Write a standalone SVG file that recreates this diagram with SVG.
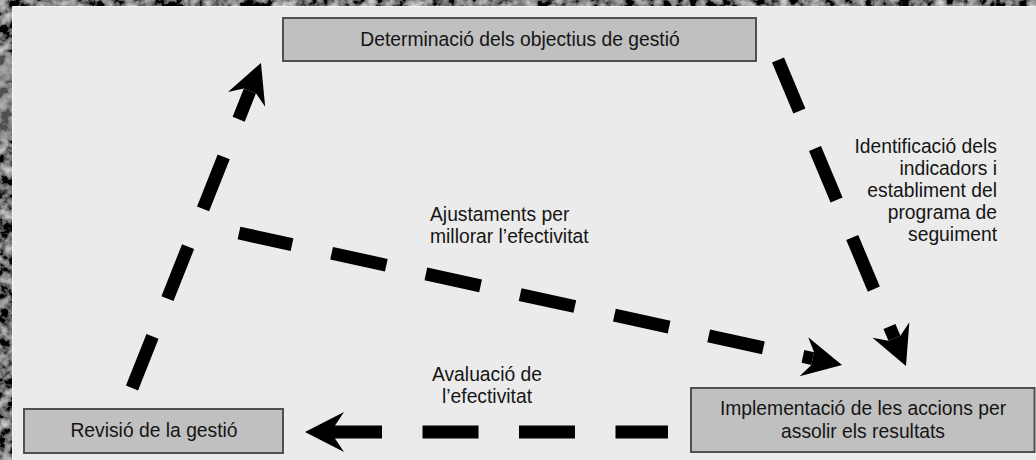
<svg xmlns="http://www.w3.org/2000/svg" width="1036" height="460" viewBox="0 0 1036 460">
  <defs>
    <filter id="grain" x="0" y="0" width="100%" height="100%">
      <feTurbulence type="fractalNoise" baseFrequency="0.09" numOctaves="4" seed="11" result="n"/>
      <feColorMatrix in="n" type="matrix" values="1.3 0 0 0 -0.48  1.3 0 0 0 -0.48  1.3 0 0 0 -0.48  0 0 0 0 1"/>
    </filter>
    <marker id="head" markerUnits="userSpaceOnUse" orient="auto-start-reverse" viewBox="-15 -25 50 50" markerWidth="50" markerHeight="50" refX="0" refY="0">
      <path d="M30,0 L-9,-20 L0,-6.5 L0,6.5 L-9,20 Z" fill="#000"/>
    </marker>
    <style>
      .box { fill: #c0c0c0; stroke: #505050; stroke-width: 2; }
      .lbl { font-family: "Liberation Sans", Arial, sans-serif; font-size: 19.3px; fill: #151515; }
      .mid { text-anchor: middle; }
      .end { text-anchor: end; }
      .conn { fill: none; stroke: #000; stroke-width: 13; stroke-dasharray: 56 40.5; marker-start: url(#head); }
    </style>
  </defs>

  <g id="background">
    <rect x="0" y="0" width="1036" height="460" fill="#2b2b2b"/>
    <rect x="0" y="0" width="1036" height="460" filter="url(#grain)"/>
    <rect x="0" y="52" width="13" height="88" fill="#a0a0a0" opacity="0.5"/>
    <rect x="13" y="7" width="1023" height="453" fill="#ebebeb"/>
    <path d="M12.5,460 L12.5,6.5 L1036,6.5" fill="none" stroke="#f7f7f7" stroke-width="1"/>
  </g>

  <g id="connectors">
    <path class="conn" style="stroke-dashoffset:25.5" d="M249.9,90.9 L132,388"/>
    <path class="conn" style="stroke-dashoffset:43.2" d="M894.4,338.3 L778,60"/>
    <path class="conn" style="stroke-dashoffset:46" d="M812.7,358.6 L239,233"/>
    <path class="conn" style="stroke-dashoffset:9" d="M335,432 L668,432"/>
  </g>

  <g id="node-objectius">
    <rect class="box" x="283" y="18" width="473" height="43"/>
    <text class="lbl mid" x="520" y="46">Determinació dels objectius de gestió</text>
  </g>

  <g id="node-implementacio">
    <rect class="box" x="691" y="388" width="343.5" height="64"/>
    <text class="lbl mid" x="863" y="415">Implementació de les accions per</text>
    <text class="lbl mid" x="863" y="438">assolir els resultats</text>
  </g>

  <g id="node-revisio">
    <rect class="box" x="24" y="409" width="259" height="44"/>
    <text class="lbl mid" x="154" y="437">Revisió de la gestió</text>
  </g>

  <g id="label-identificacio">
    <text class="lbl end" x="997" y="153">Identificació dels</text>
    <text class="lbl end" x="997" y="175">indicadors i</text>
    <text class="lbl end" x="997" y="197">establiment del</text>
    <text class="lbl end" x="997" y="219">programa de</text>
    <text class="lbl end" x="997" y="241">seguiment</text>
  </g>

  <g id="label-ajustaments">
    <text class="lbl" x="430" y="221">Ajustaments per</text>
    <text class="lbl" x="430" y="243">millorar l’efectivitat</text>
  </g>

  <g id="label-avaluacio">
    <text class="lbl mid" x="487" y="381">Avaluació de</text>
    <text class="lbl mid" x="487" y="403">l’efectivitat</text>
  </g>
</svg>
